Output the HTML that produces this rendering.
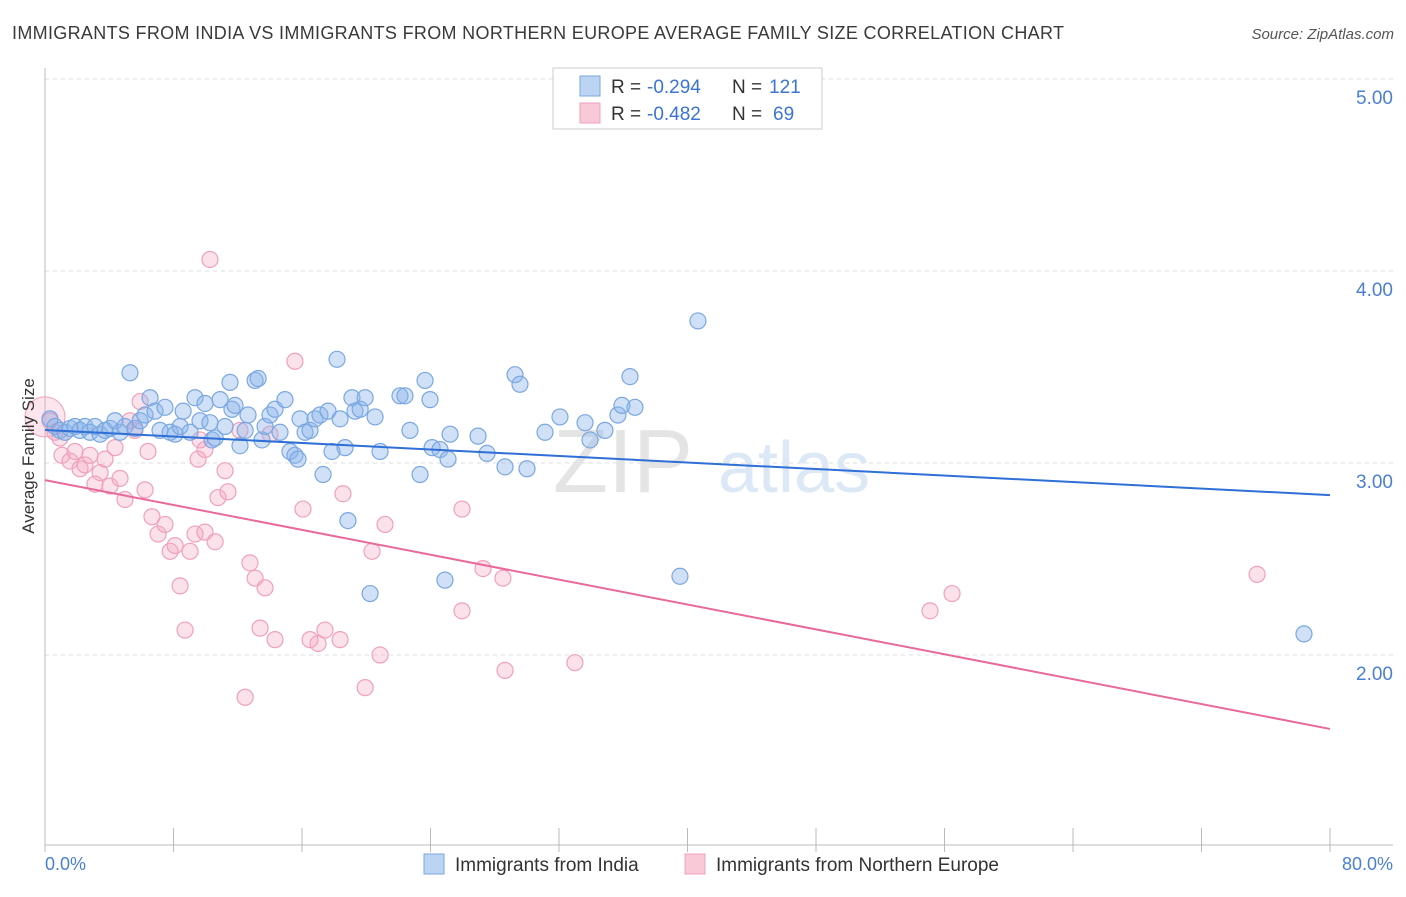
<!DOCTYPE html>
<html><head><meta charset="utf-8"><style>
body{margin:0;background:#fff;font-family:"Liberation Sans",sans-serif;}
svg text{font-family:"Liberation Sans",sans-serif;}
</style></head><body>
<svg id="chart" width="1406" height="892" xmlns="http://www.w3.org/2000/svg">
<text x="12" y="39" font-size="18" fill="#3a3a3a" textLength="1052">IMMIGRANTS FROM INDIA VS IMMIGRANTS FROM NORTHERN EUROPE AVERAGE FAMILY SIZE CORRELATION CHART</text>
<text x="1394" y="39" font-size="15" fill="#555" text-anchor="end" font-style="italic">Source: ZipAtlas.com</text>
<g id="grid"></g>
<g><text x="553" y="492" font-size="90" fill="#e4e4e4" font-family="Liberation Serif">ZIP</text><text x="718" y="492" font-size="72" fill="#dce8f6">atlas</text></g>
<g id="pts"></g>
<g id="lines"></g>
<text transform="translate(34,456) rotate(-90)" font-size="17" fill="#333" text-anchor="middle">Average Family Size</text>
<text x="45" y="870" font-size="18" fill="#4a7fd4">0.0%</text>
<text x="1393" y="870" font-size="18" fill="#4a7fd4" text-anchor="end">80.0%</text>
<g>
<rect x="553" y="68" width="269" height="61" fill="#fff" stroke="#ccc"/>
<rect x="580" y="76" width="20" height="20" fill="#bcd4f4" stroke="#7aa7e0"/>
<rect x="580" y="103" width="20" height="20" fill="#f9c9d8" stroke="#f0a0bc"/>
<text x="611" y="93" font-size="19" fill="#333">R =</text>
<text x="647" y="93" font-size="19" fill="#3b74d4">-0.294</text>
<text x="732" y="93" font-size="19" fill="#333">N =</text>
<text x="769" y="93" font-size="19" fill="#3b74d4">121</text>
<text x="611" y="120" font-size="19" fill="#333">R =</text>
<text x="647" y="120" font-size="19" fill="#3b74d4">-0.482</text>
<text x="732" y="120" font-size="19" fill="#333">N =</text>
<text x="773" y="120" font-size="19" fill="#3b74d4">69</text>
</g>
<g>
<rect x="424" y="854" width="20" height="20" fill="#bcd4f4" stroke="#7aa7e0"/>
<text x="455" y="871" font-size="19" fill="#333">Immigrants from India</text>
<rect x="685" y="854" width="20" height="20" fill="#f9c9d8" stroke="#f0a0bc"/>
<text x="716" y="871" font-size="19" fill="#333">Immigrants from Northern Europe</text>
</g>
</svg>
<script>
const yTicks=[2,3,4,5];
const yTickLabels=["2.00","3.00","4.00","5.00"];
const xTicks=[0,8,16,24,32,40,48,56,64,72,80];
const indiaX=[0.31,0.62,0.93,1.25,1.56,1.87,2.18,2.49,2.80,3.11,3.43,3.74,4.05,4.36,4.67,4.98,5.29,5.60,5.92,6.23,6.54,6.85,7.16,7.47,7.79,8.10,8.41,8.60,9.03,9.34,9.65,9.96,10.27,10.40,10.59,10.90,11.21,11.52,11.64,11.83,12.14,12.46,12.64,13.08,13.27,13.51,13.70,14.01,14.32,14.63,14.94,15.25,15.56,15.75,15.88,16.19,16.50,16.81,17.12,17.31,17.62,17.87,18.18,18.37,18.68,18.86,19.11,19.30,19.62,19.93,20.24,20.55,20.86,22.10,22.41,22.72,23.35,23.66,23.97,24.10,24.59,24.90,25.09,25.22,26.96,27.52,28.64,29.26,29.57,30.01,31.13,32.06,33.62,33.93,34.86,35.67,35.92,36.42,36.73,39.53,40.65,78.38];
const indiaY=[3.23,3.19,3.17,3.16,3.18,3.19,3.17,3.19,3.16,3.19,3.15,3.17,3.18,3.22,3.16,3.19,3.47,3.18,3.22,3.25,3.34,3.27,3.17,3.29,3.16,3.15,3.19,3.27,3.16,3.34,3.22,3.31,3.21,3.12,3.13,3.33,3.19,3.42,3.28,3.30,3.09,3.17,3.25,3.43,3.44,3.12,3.19,3.25,3.28,3.16,3.33,3.06,3.04,3.02,3.23,3.16,3.17,3.23,3.25,2.94,3.27,3.06,3.54,3.23,3.08,2.70,3.34,3.27,3.28,3.34,2.32,3.24,3.06,3.35,3.35,3.17,2.94,3.43,3.33,3.08,3.07,2.39,3.02,3.15,3.14,3.05,2.98,3.46,3.41,2.97,3.16,3.24,3.21,3.12,3.17,3.25,3.30,3.45,3.29,2.41,3.74,2.11];
const neX=[0.31,0.62,0.93,1.06,1.56,1.87,2.18,2.49,2.80,3.11,3.43,3.74,4.05,4.36,4.67,4.98,5.29,5.60,5.92,6.23,6.41,6.66,7.04,7.47,7.79,8.10,8.41,8.72,9.03,9.34,9.53,9.65,9.96,9.96,10.27,10.59,10.77,11.21,11.39,12.14,12.76,13.08,13.39,13.70,14.01,14.32,12.46,15.56,16.06,16.50,17.00,17.43,18.37,18.55,19.93,20.36,20.86,21.17,25.96,25.96,27.27,28.51,28.64,32.99,55.10,56.47,75.46];
const neY=[3.22,3.16,3.13,3.04,3.01,3.06,2.97,2.99,3.04,2.89,2.95,3.02,2.88,3.08,2.92,2.81,3.22,3.17,3.32,2.86,3.06,2.72,2.63,2.68,2.54,2.57,2.36,2.13,2.54,2.63,3.02,3.12,3.07,2.64,4.06,2.59,2.82,2.96,2.85,3.17,2.48,2.40,2.14,2.35,3.15,2.08,1.78,3.53,2.76,2.08,2.06,2.13,2.08,2.84,1.83,2.54,2.00,2.68,2.76,2.23,2.45,2.40,1.92,1.96,2.23,2.32,2.42];
const indiaTrend=[3.172,2.833];
const neTrend=[2.911,1.615];
const NS="http://www.w3.org/2000/svg";
const X=v=>45+v/80*1285;
const Y=v=>79+(5-v)*192;
function mk(t,a,p){const e=document.createElementNS(NS,t);for(const k in a)e.setAttribute(k,a[k]);p.appendChild(e);return e;}
const grid=document.getElementById('grid');
yTicks.forEach((t,i)=>{
 const l=mk('line',{x1:45,x2:1393,y1:Y(t),y2:Y(t),stroke:'#ddd','stroke-dasharray':'4,4'},grid);
 
 
 const tx=mk('text',{x:1393,y:Y(t)+25,'font-size':19,fill:'#4a7fd4','text-anchor':'end'},grid);
 tx.textContent=yTickLabels[i];
 
 
});
const ax=mk('line',{x1:45,x2:45,y1:68,y2:845,stroke:'#bbb'},grid);


const bx=mk('line',{x1:45,x2:1393,y1:845,y2:845,stroke:'#bbb'},grid);


xTicks.forEach(t=>{
 const l=mk('line',{x1:X(t),x2:X(t),y1:828,y2:852,stroke:'#bbb'},grid);
 
 
});
const pts=document.getElementById('pts');
const big=mk('circle',{cx:X(0),cy:Y(3.24),r:20,fill:'rgba(244,170,195,0.3)',stroke:'#f0a0bc'},pts);


neX.forEach((x,i)=>{
 const c=mk('circle',{cx:X(x),cy:Y(neY[i]),r:8,fill:'rgba(244,170,195,0.35)',stroke:'#f0a0bc','stroke-width':1.2},pts);
 
 
});
indiaX.forEach((x,i)=>{
 const c=mk('circle',{cx:X(x),cy:Y(indiaY[i]),r:8,fill:'rgba(137,180,235,0.4)',stroke:'#7aa7e0','stroke-width':1.2},pts);
 
 
});
const lines=document.getElementById('lines');
const l1=mk('line',{x1:X(0),x2:X(80),y1:Y(indiaTrend[0]),y2:Y(indiaTrend[1]),stroke:'#2f6fd6','stroke-width':2},lines);


const l2=mk('line',{x1:X(0),x2:X(80),y1:Y(neTrend[0]),y2:Y(neTrend[1]),stroke:'#e8699a','stroke-width':2},lines);


</script>
</body></html>
